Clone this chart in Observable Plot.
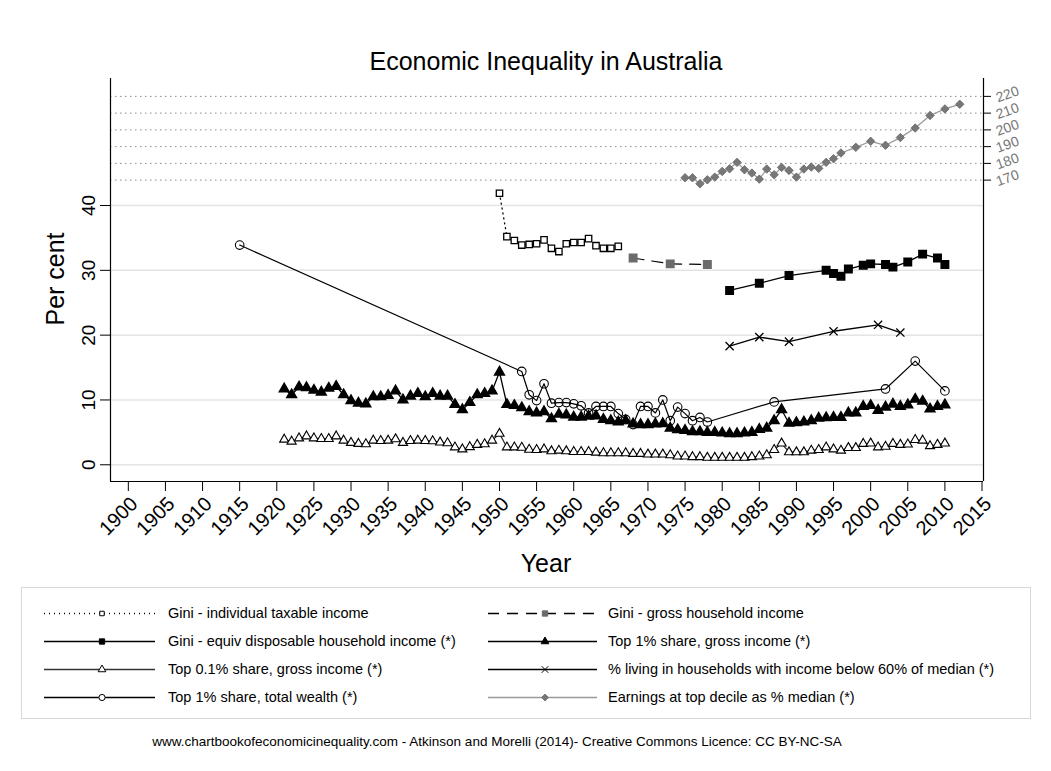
<!DOCTYPE html>
<html><head><meta charset="utf-8">
<script src="https://cdn.jsdelivr.net/npm/d3@7"></script>
<script src="https://cdn.jsdelivr.net/npm/@observablehq/plot@0.6"></script>
<style>
body{margin:0;background:#fff;font-family:Arial,"Liberation Sans",sans-serif;}
#wrap{position:relative;width:1051px;height:771px;overflow:hidden;background:#fff;}
#wrap svg{position:absolute;left:0;top:0;}
</style></head><body><div id="wrap"></div>
<script>
// ---------- data ----------
const xTicks = [1900,1905,1910,1915,1920,1925,1930,1935,1940,1945,1950,1955,1960,1965,1970,1975,1980,1985,1990,1995,2000,2005,2010,2015];
const leftTicks = [0,10,20,30,40];
const rightTicks = [170,180,190,200,210,220];

const taxYears = [1950,1951,1952,1953,1954,1955,1956,1957,1958,1959,1960,1961,1962,1963,1964,1965,1966];
const taxVals  = [41.9,35.2,34.6,33.9,34.0,34.1,34.7,33.4,32.9,34.1,34.3,34.3,34.9,33.8,33.4,33.4,33.7];

const grossHhYears = [1968,1973,1978];
const grossHhVals  = [31.9,31.0,30.9];

const dispYears = [1981,1985,1989,1994,1995,1996,1997,1999,2000,2002,2003,2005,2007,2009,2010];
const dispVals  = [26.9,28.0,29.2,30.0,29.5,29.1,30.2,30.8,31.0,30.9,30.5,31.3,32.5,31.9,30.9];

const top1Years = d3.range(1921, 2011);
const top1Vals = [11.7,10.8,12.0,11.9,11.5,11.2,11.8,12.1,10.8,9.9,
  9.5,9.4,10.5,10.5,10.7,11.4,10.0,10.6,11.0,10.5,
  11.0,10.6,10.6,9.3,8.5,9.6,10.8,11.0,11.4,14.3,
  9.3,9.15,8.8,8.2,8.0,8.2,7.1,7.8,7.7,7.35,
  7.35,7.5,7.55,7.0,6.8,6.6,6.8,6.3,6.2,6.2,
  6.3,6.35,5.65,5.4,5.3,5.1,5.1,5.0,5.0,4.9,
  4.8,4.8,4.9,5.0,5.45,5.65,6.8,8.5,6.4,6.5,
  6.6,6.8,7.2,7.25,7.3,7.3,8.0,8.0,9.0,9.15,
  8.4,8.9,9.35,9.0,9.25,10.1,9.8,8.6,9.0,9.25];

const top01Years = d3.range(1921, 2011);
const top01Vals = [3.9,3.6,4.1,4.4,4.1,4.0,4.0,4.4,3.75,3.4,
  3.25,3.2,3.75,3.7,3.75,3.95,3.4,3.7,3.75,3.7,
  3.65,3.45,3.35,2.7,2.4,2.75,3.1,3.2,3.75,4.8,
  2.7,2.7,2.65,2.35,2.3,2.4,2.1,2.2,2.1,2.0,
  2.0,2.0,1.9,1.8,1.8,1.8,1.8,1.7,1.7,1.6,
  1.6,1.6,1.5,1.3,1.3,1.2,1.2,1.1,1.1,1.1,
  1.1,1.1,1.1,1.2,1.3,1.5,2.3,3.3,1.95,1.95,
  1.95,2.2,2.3,2.7,2.4,2.2,2.6,2.6,3.25,3.3,
  2.7,2.8,3.25,3.1,3.15,3.85,3.75,2.9,3.1,3.3];

const povYears = [1981,1985,1989,1995,2001,2004];
const povVals  = [18.3,19.7,19.0,20.6,21.6,20.4];

const wealthYears = [1915,1953,1954,1955,1956,1957,1958,1959,1960,1961,1962,1963,1964,1965,1966,1967,1968,1969,1970,1971,1972,1973,1974,1975,1976,1977,1978,1987,2002,2006,2010];
const wealthVals  = [33.9,14.4,10.8,9.9,12.5,9.5,9.6,9.6,9.4,9.1,8.0,9.0,9.0,9.0,7.9,7.0,6.2,9.0,9.0,8.0,10.0,6.8,8.9,7.9,6.8,7.3,6.6,9.7,11.7,16.0,11.4];

const earnYears = [1975,1976,1977,1978,1979,1980,1981,1982,1983,1984,1985,1986,1987,1988,1989,1990,1991,1992,1993,1994,1995,1996,1998,2000,2002,2004,2006,2008,2010,2012];
const earnVals  = [171.4,171.4,167.8,170.2,171.8,175.2,176.8,180.6,176.2,174.2,170.6,176.6,173.2,177.6,175.8,171.8,176.6,177.8,177.0,180.6,182.8,186.2,189.6,193.2,190.8,195.4,201.1,208.6,212.5,215.3];

// ---------- scales / helpers ----------
const X0 = 1897.6, X1 = 2015.2, Y0 = -2.58, Y1 = 59.6;
// secondary (right) axis mapped onto the left scale
const toLeft = v => 43.92 + (v - 170) * 0.2584;
const fromLeft = y => Math.round(170 + (y - 43.92) / 0.2584);
const zip = (xs, ys, f = v => v) => xs.map((x, i) => ({x, y: f(ys[i])}));

const tax = zip(taxYears, taxVals);
const grossHh = zip(grossHhYears, grossHhVals);
const disp = zip(dispYears, dispVals);
const top1 = zip(top1Years, top1Vals);
const top01 = zip(top01Years, top01Vals);
const pov = zip(povYears, povVals);
const wealth = zip(wealthYears, wealthVals);
const earn = zip(earnYears, earnVals, toLeft);
const rightPos = rightTicks.map(toLeft);

const FONT = 'Arial, "Liberation Sans", sans-serif';
const blank = () => "";

const chart = Plot.plot({
  width: 1051, height: 580,
  marginLeft: 110, marginRight: 68, marginTop: 78, marginBottom: 99,
  x: {domain: [X0, X1]},
  y: {domain: [Y0, Y1]},
  style: {fontFamily: FONT, color: "#000", background: "transparent", overflow: "visible"},
  marks: [
    Plot.ruleY(leftTicks, {stroke: "#e4e4e4", strokeWidth: 1.5}),
    Plot.ruleY(rightPos, {stroke: "#8a8a8a", strokeWidth: 1, strokeDasharray: "1.5,3.5"}),
    Plot.ruleX([X0, X1], {stroke: "#000", strokeWidth: 1.2}),
    Plot.ruleY([Y0], {stroke: "#000", strokeWidth: 1.2}),
    Plot.axisY(leftTicks, {anchor: "left", tickSize: 10, tickPadding: 6, tickRotate: -90, fontSize: 19, label: null, tickFormat: d => String(d)}),
    // right axis: ticks, then labels
    Plot.axisY(rightPos, {anchor: "right", tickSize: 7, label: null, tickFormat: blank}),
    Plot.axisY(rightPos, {anchor: "right", tickSize: 0, tickPadding: 13, tickRotate: -20, fontSize: 14, fill: "#777", label: null, tickFormat: fromLeft, dy: 2}),
    // bottom axis: ticks, then labels
    Plot.axisX(xTicks, {anchor: "bottom", tickSize: 10, label: null, tickFormat: blank}),
    Plot.axisX(xTicks, {anchor: "bottom", tickSize: 0, tickPadding: 14, tickRotate: -45, fontSize: 20, label: null, tickFormat: d => String(d), dx: 6, dy: 5}),

    // earnings (secondary axis)
    Plot.line(earn, {x: "x", y: "y", stroke: "#9a9a9a", strokeWidth: 1.3}),
    Plot.dot(earn, {x: "x", y: "y", symbol: "diamond2", r: 3.8, fill: "#777", stroke: "#666", strokeWidth: 0.8}),

    // Gini individual taxable income
    Plot.line(tax, {x: "x", y: "y", stroke: "#000", strokeWidth: 1.3, strokeDasharray: "1,4", strokeLinecap: "round"}),
    Plot.dot(tax, {x: "x", y: "y", symbol: "square", r: 3.6, fill: "#fff", stroke: "#000", strokeWidth: 1.3}),

    // Gini gross household income
    Plot.line(grossHh, {x: "x", y: "y", stroke: "#000", strokeWidth: 1.2, strokeDasharray: "11,8"}),
    Plot.dot(grossHh, {x: "x", y: "y", symbol: "square", r: 4.2, fill: "#6b6b6b", stroke: "#6b6b6b"}),

    // Gini equiv disposable household income
    Plot.line(disp, {x: "x", y: "y", stroke: "#000", strokeWidth: 1.3}),
    Plot.dot(disp, {x: "x", y: "y", symbol: "square", r: 4.2, fill: "#000", stroke: "#000"}),

    // poverty
    Plot.line(pov, {x: "x", y: "y", stroke: "#000", strokeWidth: 1.3}),
    Plot.dot(pov, {x: "x", y: "y", symbol: "times", r: 3.8, stroke: "#000", strokeWidth: 1.3}),

    // top 0.1% gross income
    Plot.line(top01, {x: "x", y: "y", stroke: "#222", strokeWidth: 1.2}),
    Plot.dot(top01, {x: "x", y: "y", symbol: "triangle", r: 3.4, fill: "#fff", stroke: "#000", strokeWidth: 1.1}),

    // top 1% gross income
    Plot.line(top1, {x: "x", y: "y", stroke: "#000", strokeWidth: 1.3}),
    Plot.dot(top1, {x: "x", y: "y", symbol: "triangle", r: 3.6, fill: "#000", stroke: "#000"}),

    // top 1% wealth
    Plot.line(wealth, {x: "x", y: "y", stroke: "#000", strokeWidth: 1.2}),
    Plot.dot(wealth, {x: "x", y: "y", symbol: "circle", r: 4.3, fill: "none", stroke: "#000", strokeWidth: 1.1})
  ]
});
document.getElementById("wrap").appendChild(chart);

// ---------- title, axis titles, legend, footer ----------
const ov = d3.select("#wrap").append("svg")
  .attr("width", 1051).attr("height", 771)
  .style("pointer-events", "none")
  .attr("font-family", FONT);

ov.append("text").attr("x", 546).attr("y", 70).attr("text-anchor", "middle")
  .attr("font-size", 25).text("Economic Inequality in Australia");
ov.append("text").attr("transform", "translate(64,279) rotate(-90)").attr("text-anchor", "middle")
  .attr("font-size", 25).text("Per cent");
ov.append("text").attr("x", 546).attr("y", 572).attr("text-anchor", "middle")
  .attr("font-size", 25).text("Year");

ov.append("rect").attr("x", 21.5).attr("y", 587.5).attr("width", 1009).attr("height", 131)
  .attr("fill", "none").attr("stroke", "#d8d8d8").attr("stroke-width", 1);

const legendItems = [
  {label: "Gini - individual taxable income", col: 0, row: 0, stroke: "#000", dash: "1,4", sym: d3.symbolSquare, size: 20, fill: "#fff", sstroke: "#000"},
  {label: "Gini - gross household income", col: 1, row: 0, stroke: "#000", dash: "11,8", sym: d3.symbolSquare, size: 28, fill: "#6b6b6b", sstroke: "#6b6b6b"},
  {label: "Gini - equiv disposable household income (*)", col: 0, row: 1, stroke: "#000", dash: null, sym: d3.symbolSquare, size: 28, fill: "#000", sstroke: "#000"},
  {label: "Top 1% share, gross income (*)", col: 1, row: 1, stroke: "#000", dash: null, sym: d3.symbolTriangle, size: 26, fill: "#000", sstroke: "#000"},
  {label: "Top 0.1% share, gross income (*)", col: 0, row: 2, stroke: "#333", dash: null, sym: d3.symbolTriangle, size: 26, fill: "#fff", sstroke: "#000"},
  {label: "% living in households with income below 60% of median (*)", col: 1, row: 2, stroke: "#000", dash: null, sym: d3.symbolTimes, size: 30, fill: "none", sstroke: "#000"},
  {label: "Top 1% share, total wealth (*)", col: 0, row: 3, stroke: "#000", dash: null, sym: d3.symbolCircle, size: 30, fill: "#fff", sstroke: "#000"},
  {label: "Earnings at top decile as % median (*)", col: 1, row: 3, stroke: "#9a9a9a", dash: null, sym: d3.symbolDiamond2, size: 30, fill: "#777", sstroke: "#777"}
];
const colX = [{x1: 44, x2: 155, m: 102, t: 168}, {x1: 488, x2: 597, m: 545, t: 608}];
const rowY = [613, 641, 669, 697];
for (const it of legendItems) {
  const c = colX[it.col], y = rowY[it.row];
  const g = ov.append("g");
  const ln = g.append("line").attr("x1", c.x1).attr("x2", c.x2).attr("y1", y + 0.5).attr("y2", y + 0.5)
    .attr("stroke", it.stroke).attr("stroke-width", 1.3);
  if (it.dash) ln.attr("stroke-dasharray", it.dash);
  g.append("path").attr("d", d3.symbol(it.sym, it.size)()).attr("transform", `translate(${c.m},${y + 0.5})`)
    .attr("fill", it.fill).attr("stroke", it.sstroke).attr("stroke-width", 1);
  g.append("text").attr("x", c.t).attr("y", y).attr("dy", "0.35em").attr("font-size", 14.5).text(it.label);
}

ov.append("text").attr("x", 497).attr("y", 746).attr("text-anchor", "middle").attr("font-size", 13.5)
  .text("www.chartbookofeconomicinequality.com - Atkinson and Morelli (2014)- Creative Commons Licence: CC BY-NC-SA");
</script>
</body></html>
